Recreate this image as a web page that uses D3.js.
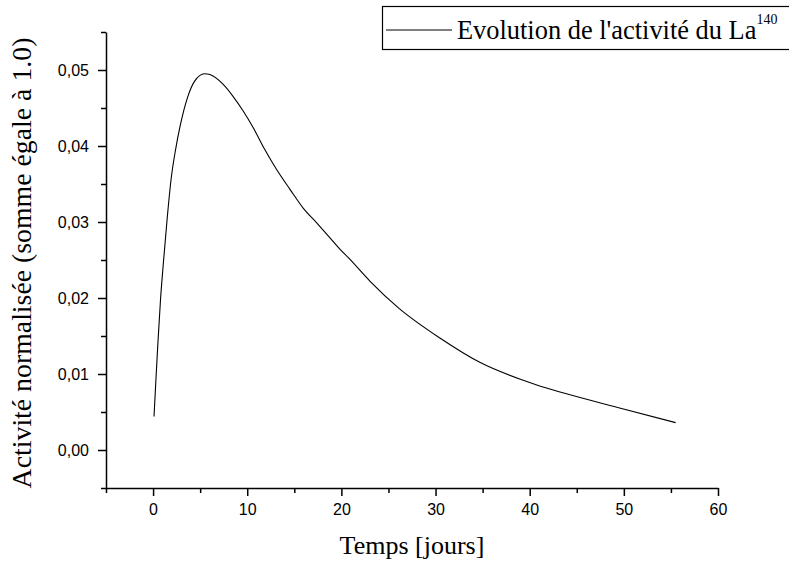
<!DOCTYPE html>
<html>
<head>
<meta charset="utf-8">
<script src="https://cdn.jsdelivr.net/npm/d3@7"></script>
<style>
  body { margin: 0; background: #fff; }
  .tick text { font-family: "Liberation Sans", Arial, sans-serif; font-size: 16px; fill: #000; }
  .domain { stroke-width: 1.5px; }
  .tick line { stroke-width: 1.5px; }
  .axis-label { font-family: "Liberation Serif", "Times New Roman", serif; font-size: 26px; fill: #000; }
</style>
</head>
<body>
<div id="wrapper"></div>
<script>
// data
const days = [0.1, 0.3, 0.5, 0.79, 1.1, 1.5, 1.91, 2.4, 2.87, 3.69, 4.4, 5.47, 6.03,
  7.45, 8.51, 9.57, 10.64, 11.88, 13.12, 14.54, 15.96, 17.38, 18.79, 19.86, 20.74,
  23.05, 26.06, 30.5, 34.75, 39.01, 41.14, 43.62, 49.65, 55.5];
const activity = [0.0044, 0.0092, 0.0138, 0.0198, 0.0247, 0.0305, 0.0356, 0.0396, 0.0426, 0.0465, 0.0485, 0.0495, 0.0494,
  0.0481, 0.0465, 0.0446, 0.0424, 0.0395, 0.0369, 0.0343, 0.0318, 0.0299, 0.0279, 0.0264, 0.0253,
  0.0222, 0.0187, 0.0147, 0.0115, 0.0093, 0.0084, 0.0075, 0.0055, 0.0036];
const xTicks = [0, 10, 20, 30, 40, 50, 60];
const xMinorTicks = [-5, 5, 15, 25, 35, 45, 55];
const yTicks = [0, 0.01, 0.02, 0.03, 0.04, 0.05];
const yMinorTicks = [-0.005, 0.005, 0.015, 0.025, 0.035, 0.045, 0.055];
const xLabel = 'Temps [jours]';
const yLabel = 'Activité normalisée (somme égale à 1.0)';
const legendText = "Evolution de l'activité du La";
const legendSup = '140';

function drawChart() {
  const dataset = days.map((d, i) => ({ t: d, v: activity[i] }));
  const xAccessor = d => d.t;
  const yAccessor = d => d.v;

  //2. dimensions
  let dimensions = {
    width: 789,
    height: 563,
    margin: { top: 32, right: 71, bottom: 75, left: 106 },
  };
  dimensions.boundedWidth = dimensions.width - dimensions.margin.left - dimensions.margin.right;
  dimensions.boundedHeight = dimensions.height - dimensions.margin.top - dimensions.margin.bottom;

  //3. canvas
  const wrapper = d3.select('#wrapper')
    .append('svg')
    .attr('width', dimensions.width)
    .attr('height', dimensions.height);

  const bounds = wrapper.append('g')
    .attr('transform', `translate(${dimensions.margin.left},${dimensions.margin.top})`);

  //4. scales
  const xScale = d3.scaleLinear()
    .domain([-5, 60])
    .range([0, dimensions.boundedWidth]);
  const yScale = d3.scaleLinear()
    .domain([-0.005, 0.055])
    .range([dimensions.boundedHeight, 0]);

  //5. line
  const lineGenerator = d3.line()
    .x(d => xScale(xAccessor(d)))
    .y(d => yScale(yAccessor(d)))
    .curve(d3.curveMonotoneX);
  bounds.append('path')
    .datum(dataset)
    .attr('d', lineGenerator)
    .attr('fill', 'none')
    .attr('stroke', '#000')
    .attr('stroke-width', 1.1);

  //6. axes
  const fmtY = v => d3.format('.2f')(v).replace('.', ',');

  bounds.append('g')
    .attr('transform', `translate(0,${dimensions.boundedHeight})`)
    .call(d3.axisBottom(xScale).tickValues(xMinorTicks).tickFormat('').tickSize(5).tickSizeOuter(0))
    .select('.domain').remove();
  const xAxis = bounds.append('g')
    .attr('transform', `translate(0,${dimensions.boundedHeight})`)
    .call(d3.axisBottom(xScale).tickValues(xTicks).tickSize(8).tickSizeOuter(0).tickPadding(8));

  bounds.append('g')
    .call(d3.axisLeft(yScale).tickValues(yMinorTicks).tickFormat('').tickSize(5).tickSizeOuter(0))
    .select('.domain').remove();
  const yAxis = bounds.append('g')
    .call(d3.axisLeft(yScale).tickValues(yTicks).tickFormat(fmtY).tickSize(8).tickSizeOuter(0).tickPadding(9));

  wrapper.append('text')
    .attr('class', 'axis-label')
    .attr('x', dimensions.margin.left + xScale(27.5))
    .attr('y', 554)
    .attr('text-anchor', 'middle')
    .text(xLabel);

  wrapper.append('text')
    .attr('class', 'axis-label')
    .attr('transform', `translate(31,263) rotate(-90)`)
    .attr('text-anchor', 'middle')
    .style('font-size', '27.8px')
    .text(yLabel);

  // legend
  const legend = wrapper.append('g');
  legend.append('rect')
    .attr('x', 382.5)
    .attr('y', 6.5)
    .attr('width', 420)
    .attr('height', 43)
    .attr('fill', '#fff')
    .attr('stroke', '#000')
    .attr('stroke-width', 1.2);
  legend.append('line')
    .attr('x1', 386)
    .attr('x2', 452)
    .attr('y1', 30)
    .attr('y2', 30)
    .attr('stroke', '#000')
    .attr('stroke-width', 1.1);
  const lt = legend.append('text')
    .attr('class', 'axis-label')
    .attr('x', 457)
    .attr('y', 39)
    .style('font-size', '26.4px')
    .text(legendText);
  lt.append('tspan')
    .attr('dy', -15)
    .style('font-size', '14px')
    .text(legendSup);
}

drawChart();
</script>
</body>
</html>
